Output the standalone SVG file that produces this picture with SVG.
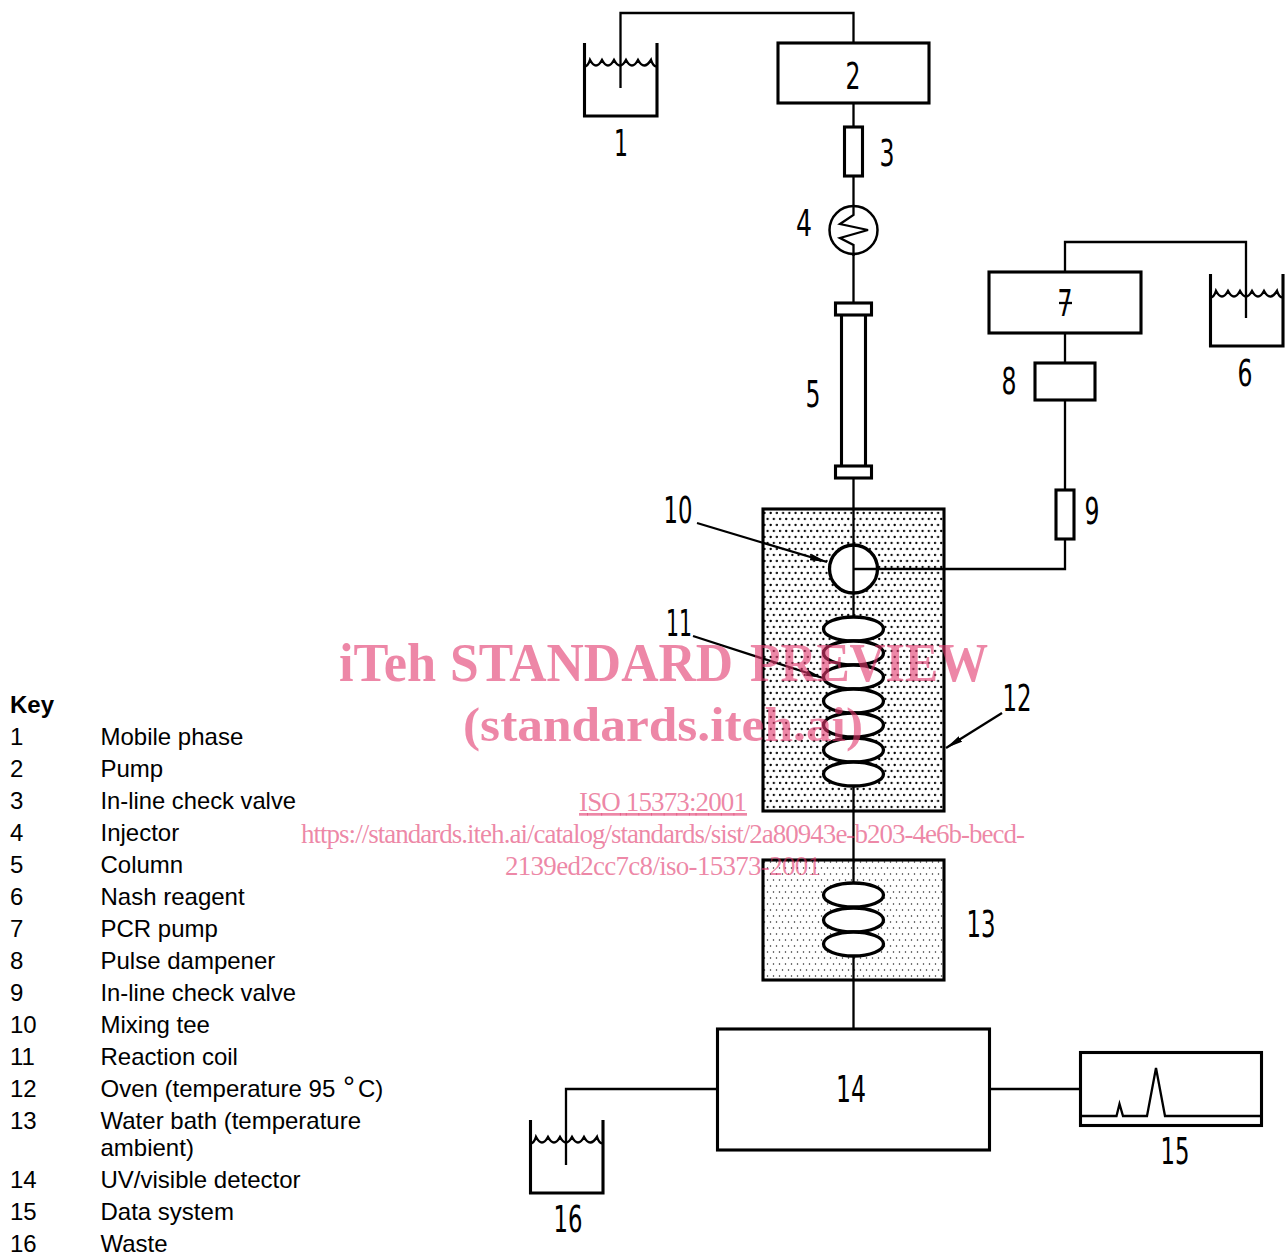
<svg xmlns="http://www.w3.org/2000/svg" width="1285" height="1255" viewBox="0 0 1285 1255">
<style>
.l{fill:none;stroke:#000;stroke-width:2.3}
.b{fill:none;stroke:#000;stroke-width:3.1;stroke-linejoin:miter}
.e{fill:#fff;stroke:#000;stroke-width:3.3}
.s{fill:none;stroke:#000;stroke-width:2.5}
.n{font-family:"DejaVu Sans",sans-serif;font-weight:400;font-size:37px;fill:#000;text-anchor:middle}
.k{font-family:"Liberation Sans",Arial,sans-serif;font-size:24px;fill:#000}
.m{font-family:"Liberation Serif","Times New Roman",serif;fill:#e1376c;fill-opacity:.6;text-anchor:middle}
</style>
<defs>
<pattern id="p1" width="6.2" height="12" patternUnits="userSpaceOnUse" x="763" y="509"><circle cx="1.500" cy="4" r="1.150" fill="#000"/><circle cx="4.600" cy="10" r="1.150" fill="#000"/></pattern>
<pattern id="p2" width="6" height="12" patternUnits="userSpaceOnUse" x="763" y="859"><circle cx="1.500" cy="3" r=".75" fill="#222"/><circle cx="4.500" cy="9" r=".75" fill="#222"/></pattern>
<marker id="a" markerWidth="18" markerHeight="8" refX="17" refY="4" orient="auto" markerUnits="userSpaceOnUse"><path d="M0 .8L17 4L0 7.200Z" fill="#000"/></marker>
<path id="wave" d="M0 23.500Q4 23.500 6 17Q12 28 18 17Q24 28 30 17Q36 28 42 17Q48 28 54 17Q60 28 67 17Q69 23.500 73 23.500"/>
</defs>
<g id="node-12"><rect x="763" y="509" width="181" height="302" fill="url(#p1)" stroke="#000" stroke-width="3.100"/><text class="n" x="1017" y="711" textLength="29" lengthAdjust="spacingAndGlyphs">12</text></g>
<g id="node-13"><rect x="763" y="860" width="181" height="120" fill="url(#p2)" stroke="#000" stroke-width="3.100"/><text class="n" x="981" y="937" textLength="29" lengthAdjust="spacingAndGlyphs">13</text></g>
<g id="connectors">
<path class="l" d="M620.500 88V13H853.500V43"/>
<path class="l" d="M853.500 103V127M853.500 176V205M853.500 255V303M853.500 478V617M853.500 786V883M853.500 956V1029"/>
<path class="l" d="M1065 272V242H1246V318"/>
<path class="l" d="M1065 333V363M1065 400V490M1065 539V569H853.500"/>
<path class="l" d="M717 1089H566V1165"/>
<path class="l" d="M990 1089H1080"/>
<path class="l" marker-end="url(#a)" d="M697 523L827 562"/>
<path class="l" marker-end="url(#a)" d="M693 636L823 678"/>
<path class="l" marker-end="url(#a)" d="M1002 713L946 748"/>
</g>
<g id="node-1"><path class="b" d="M584.500 43V116H657V43"/><use href="#wave" class="s" x="584" y="43"/><text class="n" x="621" y="156" textLength="14" lengthAdjust="spacingAndGlyphs">1</text></g>
<g id="node-2"><rect class="b" x="778" y="43" width="151" height="60"/><text class="n" x="853" y="89" textLength="15" lengthAdjust="spacingAndGlyphs">2</text></g>
<g id="node-3"><rect class="b" x="844.500" y="127" width="18" height="49"/><text class="n" x="887" y="166" textLength="15" lengthAdjust="spacingAndGlyphs">3</text></g>
<g id="node-4"><circle class="s" cx="853.500" cy="230" r="24"/><path class="l" d="M853.500 207V215L840 224L868 230L840 238L853.500 245V256"/><text class="n" x="804" y="236" textLength="16" lengthAdjust="spacingAndGlyphs">4</text></g>
<g id="node-5"><path class="b" d="M841.500 315V466M865.500 315V466"/><rect class="b" x="835.500" y="303" width="36" height="12"/><rect class="b" x="835.500" y="466" width="36" height="12"/><text class="n" x="813" y="407" textLength="15" lengthAdjust="spacingAndGlyphs">5</text></g>
<g id="node-6"><path class="b" d="M1210.500 274V346H1283V274"/><use href="#wave" class="s" x="1210" y="274"/><text class="n" x="1245" y="386" textLength="15" lengthAdjust="spacingAndGlyphs">6</text></g>
<g id="node-7"><rect class="b" x="989" y="272" width="152" height="61"/><path class="l" d="M1059 303H1072"/><text class="n" x="1065" y="316" textLength="15" lengthAdjust="spacingAndGlyphs">7</text></g>
<g id="node-8"><rect class="b" x="1035" y="363" width="60" height="37"/><text class="n" x="1009" y="394" textLength="15" lengthAdjust="spacingAndGlyphs">8</text></g>
<g id="node-9"><rect class="b" x="1056" y="490" width="18" height="49"/><text class="n" x="1092" y="524" textLength="15" lengthAdjust="spacingAndGlyphs">9</text></g>
<g id="node-10"><circle class="e" cx="853.500" cy="569" r="24"/><path class="l" d="M853.500 545V593M853.500 569H877"/><text class="n" x="678" y="523" textLength="29" lengthAdjust="spacingAndGlyphs">10</text></g>
<g id="node-11"><ellipse class="e" cx="853.500" cy="629" rx="30" ry="12"/><ellipse class="e" cx="853.500" cy="653" rx="30" ry="12"/><ellipse class="e" cx="853.500" cy="677" rx="30" ry="12"/><ellipse class="e" cx="853.500" cy="701" rx="30" ry="12"/><ellipse class="e" cx="853.500" cy="725" rx="30" ry="12"/><ellipse class="e" cx="853.500" cy="750" rx="30" ry="12"/><ellipse class="e" cx="853.500" cy="774" rx="30" ry="12"/><text class="n" x="679" y="636" textLength="26" lengthAdjust="spacingAndGlyphs">11</text></g>
<g id="coil-13"><ellipse class="e" cx="853.500" cy="895" rx="30" ry="12"/><ellipse class="e" cx="853.500" cy="920" rx="30" ry="12"/><ellipse class="e" cx="853.500" cy="944" rx="30" ry="12"/></g>
<g id="node-14"><rect class="b" x="717.500" y="1029" width="272" height="121"/><text class="n" x="851" y="1102" textLength="30" lengthAdjust="spacingAndGlyphs">14</text></g>
<g id="node-15"><rect class="b" x="1080.500" y="1052.500" width="181" height="73"/><path class="l" d="M1081 1116H1116.500L1119.500 1104L1123 1116H1147L1156 1068L1165 1116H1261"/><text class="n" x="1175" y="1164" textLength="29" lengthAdjust="spacingAndGlyphs">15</text></g>
<g id="node-16"><path class="b" d="M530.500 1120V1193H603V1120"/><use href="#wave" class="s" x="530" y="1120"/><text class="n" x="568" y="1232" textLength="29" lengthAdjust="spacingAndGlyphs">16</text></g>
<g id="key">
<text class="k" x="10" y="713" font-weight="700">Key</text>
<text class="k" x="10" y="745">1</text><text class="k" x="100.500" y="745">Mobile phase</text>
<text class="k" x="10" y="777">2</text><text class="k" x="100.500" y="777">Pump</text>
<text class="k" x="10" y="809">3</text><text class="k" x="100.500" y="809" textLength="195.500" lengthAdjust="spacingAndGlyphs">In-line check valve</text>
<text class="k" x="10" y="841">4</text><text class="k" x="100.500" y="841">Injector</text>
<text class="k" x="10" y="873">5</text><text class="k" x="100.500" y="873">Column</text>
<text class="k" x="10" y="905">6</text><text class="k" x="100.500" y="905">Nash reagent</text>
<text class="k" x="10" y="937">7</text><text class="k" x="100.500" y="937">PCR pump</text>
<text class="k" x="10" y="969">8</text><text class="k" x="100.500" y="969">Pulse dampener</text>
<text class="k" x="10" y="1001">9</text><text class="k" x="100.500" y="1001" textLength="195.500" lengthAdjust="spacingAndGlyphs">In-line check valve</text>
<text class="k" x="10" y="1033">10</text><text class="k" x="100.500" y="1033">Mixing tee</text>
<text class="k" x="10" y="1065">11</text><text class="k" x="100.500" y="1065">Reaction coil</text>
<text class="k" x="10" y="1097">12</text><text class="k" x="100.500" y="1097">Oven (temperature 95 <tspan x="343" font-size="30">°</tspan><tspan x="358">C)</tspan></text>
<text class="k" x="10" y="1129">13</text><text class="k" x="100.500" y="1129">Water bath (temperature</text>
<text class="k" x="100.500" y="1156">ambient)</text>
<text class="k" x="10" y="1188">14</text><text class="k" x="100.500" y="1188">UV/visible detector</text>
<text class="k" x="10" y="1220">15</text><text class="k" x="100.500" y="1220">Data system</text>
<text class="k" x="10" y="1252">16</text><text class="k" x="100.500" y="1252">Waste</text>
</g>
<g id="watermark">
<text class="m" y="681" font-size="54" font-weight="700" style="text-anchor:start"><tspan x="339" textLength="97" lengthAdjust="spacingAndGlyphs">iTeh</tspan> <tspan x="450" textLength="283" lengthAdjust="spacingAndGlyphs">STANDARD</tspan> <tspan x="750" textLength="238" lengthAdjust="spacingAndGlyphs">PREVIEW</tspan></text>
<text class="m" x="663" y="741" font-size="48" font-weight="700" textLength="400" lengthAdjust="spacingAndGlyphs">(standards.iteh.ai)</text>
<text class="m" x="663" y="811" font-size="27" text-decoration="underline" textLength="168">ISO 15373:2001</text>
<text class="m" x="663" y="843" font-size="27" textLength="724">https://standards.iteh.ai/catalog/standards/sist/2a80943e-b203-4e6b-becd-</text>
<text class="m" x="663" y="875" font-size="27" textLength="316">2139ed2cc7c8/iso-15373-2001</text>
</g>
</svg>
